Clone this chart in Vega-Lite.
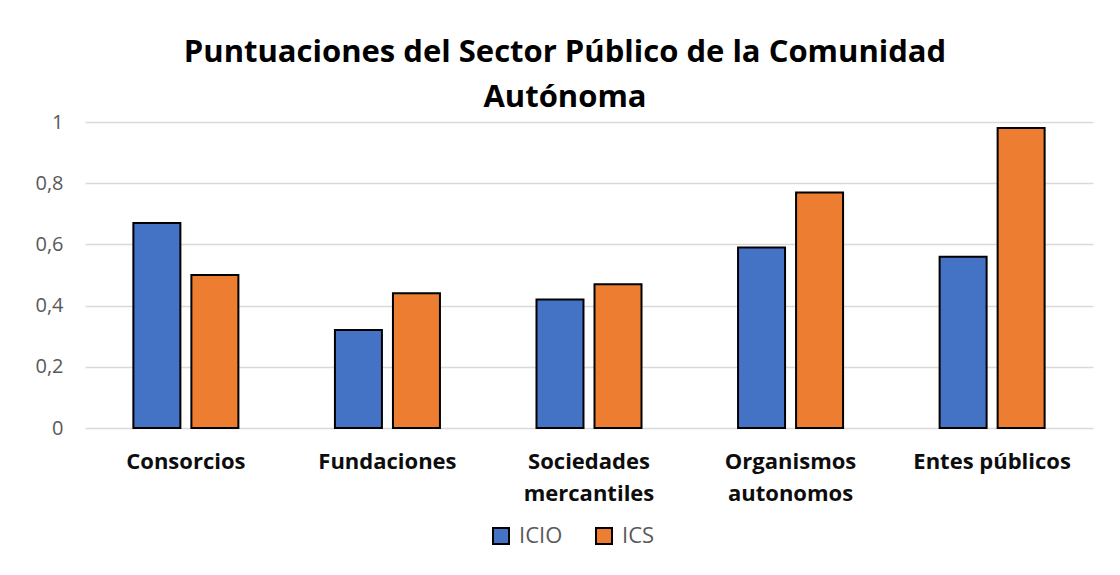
{
  "$schema": "https://vega.github.io/schema/vega-lite/v6.json",
  "autosize": "none",
  "width": 1008,
  "height": 306,
  "padding": {"left": 85, "top": 122, "right": 27, "bottom": 147},
  "background": "white",
  "title": {
    "text": ["Puntuaciones del Sector Público de la Comunidad", "Autónoma"],
    "font": "Open Sans",
    "fontSize": 31,
    "fontWeight": "bold",
    "color": "#000000",
    "lineHeight": 45,
    "anchor": "middle",
    "frame": "group",
    "dx": -24,
    "offset": -2
  },
  "data": {
    "values": [
      {"categoria": "Consorcios", "serie": "ICIO", "valor": 0.67},
      {"categoria": "Consorcios", "serie": "ICS", "valor": 0.50},
      {"categoria": "Fundaciones", "serie": "ICIO", "valor": 0.32},
      {"categoria": "Fundaciones", "serie": "ICS", "valor": 0.44},
      {"categoria": "Sociedades mercantiles", "serie": "ICIO", "valor": 0.42},
      {"categoria": "Sociedades mercantiles", "serie": "ICS", "valor": 0.47},
      {"categoria": "Organismos autonomos", "serie": "ICIO", "valor": 0.59},
      {"categoria": "Organismos autonomos", "serie": "ICS", "valor": 0.77},
      {"categoria": "Entes públicos", "serie": "ICIO", "valor": 0.56},
      {"categoria": "Entes públicos", "serie": "ICS", "valor": 0.98}
    ]
  },
  "mark": {"type": "bar", "stroke": "#000000", "strokeWidth": 2},
  "encoding": {
    "x": {
      "field": "categoria",
      "type": "nominal",
      "sort": null,
      "scale": {"paddingInner": 0.479, "paddingOuter": 0.24},
      "axis": {
        "title": null,
        "labelAngle": 0,
        "labelFont": "Open Sans",
        "labelFontSize": 22,
        "labelFontWeight": "bold",
        "labelColor": "#0d0d0d",
        "labelLineHeight": 32,
        "labelPadding": 23,
        "ticks": false,
        "domain": false,
        "labelExpr": "datum.label == 'Sociedades mercantiles' ? ['Sociedades', 'mercantiles'] : datum.label == 'Organismos autonomos' ? ['Organismos', 'autonomos'] : datum.label"
      }
    },
    "xOffset": {
      "field": "serie",
      "type": "nominal",
      "scale": {"paddingInner": 0.19, "paddingOuter": 0}
    },
    "y": {
      "field": "valor",
      "type": "quantitative",
      "scale": {"domain": [0, 1], "nice": false},
      "axis": {
        "title": null,
        "values": [0, 0.2, 0.4, 0.6, 0.8, 1],
        "labelExpr": "replace(format(datum.value, '.1~f'), '.', ',')",
        "labelFont": "Open Sans",
        "labelFontSize": 20,
        "labelColor": "#595959",
        "labelPadding": 22,
        "ticks": false,
        "domain": false,
        "grid": true,
        "gridColor": "#d9d9d9",
        "gridWidth": 1.5
      }
    },
    "color": {
      "field": "serie",
      "type": "nominal",
      "scale": {"domain": ["ICIO", "ICS"], "range": ["#4472C4", "#ED7D31"]},
      "legend": {
        "title": null,
        "orient": "none",
        "direction": "horizontal",
        "legendX": 405,
        "legendY": 403,
        "symbolType": "square",
        "symbolSize": 256,
        "symbolStrokeColor": "#000000",
        "symbolStrokeWidth": 2,
        "symbolOpacity": 1,
        "labelFont": "Open Sans",
        "labelFontSize": 22,
        "labelColor": "#595959",
        "labelOffset": 7,
        "columnPadding": 29
      }
    }
  },
  "config": {
    "view": {"stroke": null}
  }
}
